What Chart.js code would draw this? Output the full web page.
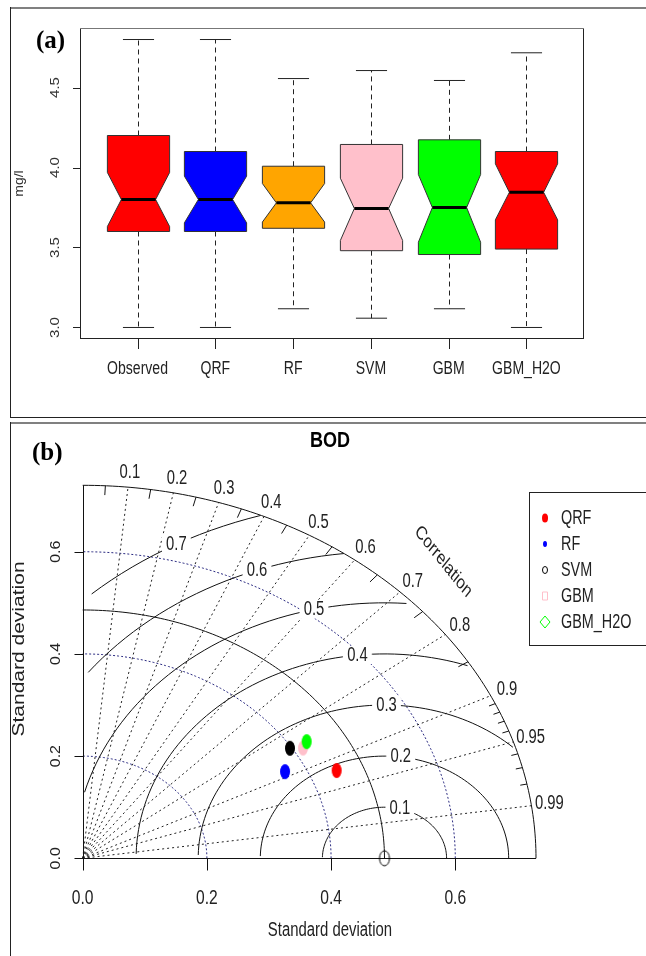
<!DOCTYPE html>
<html><head><meta charset="utf-8">
<script src="https://cdn.jsdelivr.net/npm/chart.js@4.4.1/dist/chart.umd.min.js"></script>
<style>
html,body{margin:0;padding:0;background:#fff;width:646px;height:956px;overflow:hidden;}
#wrap{position:relative;width:646px;height:956px;}
canvas{position:absolute;left:0;}
#ca{top:0;} #cb{top:420px;}
.ln{position:absolute;}
</style></head><body><div id="wrap">
<canvas id="ca" width="646" height="420"></canvas>
<canvas id="cb" width="646" height="536"></canvas>
<div class="ln" style="left:10px;top:7px;width:636px;height:2px;background:#808080"></div>
<div class="ln" style="left:10px;top:7px;width:1px;height:411px;background:#222"></div>
<div class="ln" style="left:10px;top:417px;width:636px;height:1px;background:#222"></div>
<div class="ln" style="left:10px;top:422px;width:636px;height:2px;background:#808080"></div>
<div class="ln" style="left:10px;top:422px;width:1px;height:534px;background:#222"></div>
</div>
<script>
// ---------- Panel (a) data ----------
const categories  = ['Observed','QRF','RF','SVM','GBM','GBM_H2O'];
const whiskerLow  = [3.00, 3.00, 3.117, 3.058, 3.117, 3.00];
const q1          = [3.60, 3.60, 3.62, 3.48, 3.456, 3.49];
const median      = [3.80, 3.80, 3.779, 3.744, 3.75, 3.845];
const q3          = [4.20, 4.10, 4.008, 4.144, 4.173, 4.10];
const whiskerHigh = [4.80, 4.80, 4.556, 4.606, 4.544, 4.717];
const notchLow    = [3.631, 3.654, 3.659, 3.544, 3.533, 3.673];
const notchHigh   = [3.969, 3.946, 3.90, 3.933, 3.956, 4.023];
const boxColors   = ['#FF0000','#0000FF','#FFA500','#FFC0CB','#00FF00','#FF0000'];
const yTicksA     = [3.0, 3.5, 4.0, 4.5];

// ---------- Panel (b) data ----------
const models      = ['QRF','RF','SVM','GBM','GBM_H2O'];
const modelSD     = [0.4436, 0.3673, 0.3972, 0.4153, 0.4268];
const modelCorr   = [0.922, 0.887, 0.8404, 0.8543, 0.845];
const modelColors = ['#FF0000','#0000FF','#000000','#FFC0CB','#00FF00'];
const refSD       = 0.486;
const maxSD       = 0.73;
const corrLabels  = [0.1,0.2,0.3,0.4,0.5,0.6,0.7,0.8,0.9,0.95,0.99];
const corrMedTicks= [0.05,0.15,0.25,0.35,0.45,0.55,0.65,0.75,0.85];
const corrSmallTicks=[0.91,0.92,0.93,0.94,0.96,0.97,0.98];
const sdGrid      = [0.2, 0.4, 0.6];
const rmsLevels   = [0.1,0.2,0.3,0.4,0.5,0.6,0.7];
const sdTicks     = [0.0, 0.2, 0.4, 0.6];

function txt(ctx, s, x, y, o) {
  ctx.save();
  ctx.translate(x, y);
  ctx.scale(o.sx || 1, 1);
  if (o.rot) ctx.rotate(o.rot);
  ctx.font = o.font;
  ctx.fillStyle = o.color || '#222';
  ctx.textAlign = o.align || 'center';
  ctx.textBaseline = o.base || 'middle';
  ctx.fillText(s, 0, 0);
  ctx.restore();
}
const SANS = '"Liberation Sans", Arial, sans-serif';

// ---------- Panel (a) ----------
const BOXW = 0.8;
const boxPlugin = {
  id: 'boxes',
  afterDraw(chart) {
    const ctx = chart.ctx, xs = chart.scales.x, ys = chart.scales.y, a = chart.chartArea;
    const X = v => xs.getPixelForValue(v), Y = v => ys.getPixelForValue(v);
    const hw = X(1 + BOXW / 2) - X(1);
    const hn = hw * 0.55;
    ctx.save();
    categories.forEach((c, i) => {
      const cx = Math.round(X(i + 1)) + 0.5;
      ctx.strokeStyle = '#222'; ctx.lineWidth = 1;
      ctx.setLineDash([5, 4]);
      ctx.beginPath();
      ctx.moveTo(cx, Y(q3[i])); ctx.lineTo(cx, Y(whiskerHigh[i]));
      ctx.moveTo(cx, Y(q1[i])); ctx.lineTo(cx, Y(whiskerLow[i]));
      ctx.stroke();
      ctx.setLineDash([]);
      ctx.beginPath();
      ctx.moveTo(cx - hw / 2, Y(whiskerHigh[i])); ctx.lineTo(cx + hw / 2, Y(whiskerHigh[i]));
      ctx.moveTo(cx - hw / 2, Y(whiskerLow[i])); ctx.lineTo(cx + hw / 2, Y(whiskerLow[i]));
      ctx.stroke();
      ctx.beginPath();
      ctx.moveTo(cx - hw, Y(q1[i]));
      ctx.lineTo(cx - hw, Y(notchLow[i]));
      ctx.lineTo(cx - hn, Y(median[i]));
      ctx.lineTo(cx - hw, Y(notchHigh[i]));
      ctx.lineTo(cx - hw, Y(q3[i]));
      ctx.lineTo(cx + hw, Y(q3[i]));
      ctx.lineTo(cx + hw, Y(notchHigh[i]));
      ctx.lineTo(cx + hn, Y(median[i]));
      ctx.lineTo(cx + hw, Y(notchLow[i]));
      ctx.lineTo(cx + hw, Y(q1[i]));
      ctx.closePath();
      ctx.fillStyle = boxColors[i]; ctx.fill();
      ctx.strokeStyle = '#333'; ctx.stroke();
      ctx.beginPath();
      ctx.lineWidth = 3; ctx.strokeStyle = '#000';
      ctx.moveTo(cx - hn, Y(median[i])); ctx.lineTo(cx + hn, Y(median[i]));
      ctx.stroke();
      ctx.lineWidth = 1; ctx.strokeStyle = '#222';
      ctx.beginPath(); ctx.moveTo(cx, a.bottom); ctx.lineTo(cx, a.bottom + 10); ctx.stroke();
      txt(ctx, c, X(i + 1), 369, {font: '18px ' + SANS, sx: 0.78, color: '#222'});
    });
    // plot box
    ctx.strokeStyle = '#222'; ctx.lineWidth = 1;
    ctx.strokeRect(a.left + 0.5, a.top + 0.5, a.right - a.left - 1, a.bottom - a.top - 1);
    ctx.strokeStyle = '#777';
    ctx.beginPath(); ctx.moveTo(a.left, a.top + 0.5); ctx.lineTo(a.right, a.top + 0.5); ctx.stroke();
    // y ticks
    ctx.strokeStyle = '#222';
    yTicksA.forEach(v => {
      const y = Math.round(Y(v)) + 0.5;
      ctx.beginPath(); ctx.moveTo(a.left, y); ctx.lineTo(a.left - 7, y); ctx.stroke();
      txt(ctx, v.toFixed(1), 55, Y(v), {font: '15px ' + SANS, sx: 0.9, rot: -Math.PI / 2, color: '#333'});
    });
    txt(ctx, 'mg/l', 20, (a.top + a.bottom) / 2, {font: '14px ' + SANS, sx: 0.85, rot: -Math.PI / 2, color: '#333'});
    txt(ctx, '(a)', 36, 48, {font: 'bold 25px "Liberation Serif", "Times New Roman", serif', align: 'left', base: 'alphabetic', color: '#000'});
    ctx.restore();
  }
};

new Chart(document.getElementById('ca'), {
  type: 'scatter',
  data: { datasets: [{ data: categories.map((c, i) => ({x: i + 1, y: median[i]})), pointRadius: 0 }] },
  options: {
    responsive: false, animation: false, events: [],
    plugins: { legend: {display: false}, tooltip: {enabled: false} },
    layout: { padding: {top: 28, right: 62, left: 0, bottom: 0} },
    scales: {
      x: { type: 'linear', min: 0.26, max: 6.74, grid: {display: false}, border: {display: false},
           ticks: {display: false}, afterFit: s => { s.height = 81; } },
      y: { type: 'linear', min: 2.928, max: 4.872, grid: {display: false}, border: {display: false},
           ticks: {display: false}, afterFit: s => { s.width = 80; } }
    }
  },
  plugins: [boxPlugin]
});

// ---------- Panel (b) ----------
function ellipseImg(color, rx, ry, filled) {
  const c = document.createElement('canvas');
  c.width = Math.ceil(rx * 2 + 4); c.height = Math.ceil(ry * 2 + 4);
  const g = c.getContext('2d');
  g.beginPath(); g.ellipse(c.width / 2, c.height / 2, rx, ry, 0, 0, Math.PI * 2);
  if (filled) { g.fillStyle = color; g.fill(); }
  else { g.strokeStyle = color; g.lineWidth = 1; g.stroke(); }
  return c;
}

const taylorPlugin = {
  id: 'taylor',
  beforeDatasetsDraw(chart) {
    const ctx = chart.ctx, xs = chart.scales.x, ys = chart.scales.y;
    const X = v => xs.getPixelForValue(v), Y = v => ys.getPixelForValue(v);
    const P = (sd, th) => [X(sd * Math.cos(th)), Y(sd * Math.sin(th))];
    const arc = (sd, t0, t1) => {
      ctx.beginPath();
      for (let k = 0; k <= 120; k++) {
        const p = P(sd, t0 + (t1 - t0) * k / 120);
        k ? ctx.lineTo(p[0], p[1]) : ctx.moveTo(p[0], p[1]);
      }
      ctx.stroke();
    };
    ctx.save();
    ctx.lineWidth = 1;
    // sd grid arcs
    ctx.strokeStyle = '#2a2a80'; ctx.setLineDash([2, 2]);
    sdGrid.forEach(s => arc(s, 0, Math.PI / 2));
    // radial correlation lines
    ctx.strokeStyle = '#222'; ctx.setLineDash([2, 3]);
    corrLabels.forEach(r => {
      const p = P(maxSD, Math.acos(r));
      ctx.beginPath(); ctx.moveTo(X(0), Y(0)); ctx.lineTo(p[0], p[1]); ctx.stroke();
    });
    ctx.setLineDash([]);
    // RMS arcs
    ctx.strokeStyle = '#111';
    rmsLevels.forEach((g, gi) => {
      const pts = [];
      for (let k = 0; k <= 104; k++) {
        const th = k * 0.03;
        pts.push([refSD + g * Math.cos(th), g * Math.sin(th)]);
      }
      let end = pts.findIndex(p => p[0] < 0); end = end < 0 ? 104 : end - 1;
      let start = 0;
      pts.forEach((p, k) => { if (p[0] * p[0] + p[1] * p[1] > maxSD * maxSD) start = k + 1; });
      ctx.beginPath();
      for (let k = start; k <= end; k++) {
        const px = X(pts[k][0]), py = Y(pts[k][1]);
        k === start ? ctx.moveTo(px, py) : ctx.lineTo(px, py);
      }
      ctx.stroke();
      const li = Math.floor(45 + 25 * gi / 6) - 1;
      const lx = X(pts[li][0]), ly = Y(pts[li][1]);
      ctx.font = '20px ' + SANS;
      const w = ctx.measureText(g.toFixed(1)).width * 0.74;
      ctx.fillStyle = '#fff';
      ctx.fillRect(lx - w * 0.7, ly - 9, w * 1.4, 18);
      txt(ctx, g.toFixed(1), lx, ly, {font: '20px ' + SANS, sx: 0.74, color: '#222'});
    });
    // reference sd arc and outer arc
    ctx.strokeStyle = '#111';
    arc(refSD, 0, Math.PI / 2);
    arc(maxSD, 0, Math.PI / 2);
    // outer ticks
    corrMedTicks.forEach(r => {
      const t = Math.acos(r), p = P(maxSD, t), q = P(maxSD * 0.975, t);
      ctx.beginPath(); ctx.moveTo(p[0], p[1]); ctx.lineTo(q[0], q[1]); ctx.stroke();
    });
    corrSmallTicks.forEach(r => {
      const t = Math.acos(r), p = P(maxSD, t), q = P(maxSD * 0.985, t);
      ctx.beginPath(); ctx.moveTo(p[0], p[1]); ctx.lineTo(q[0], q[1]); ctx.stroke();
    });
    // axes
    const x0 = Math.round(X(0)) + 0.5, y0 = Math.round(Y(0)) + 0.5;
    ctx.beginPath();
    ctx.moveTo(x0, y0); ctx.lineTo(X(maxSD), y0);
    ctx.moveTo(x0, y0); ctx.lineTo(x0, Y(maxSD));
    ctx.stroke();
    sdTicks.forEach(v => {
      const px = Math.round(X(v)) + 0.5, py = Math.round(Y(v)) + 0.5;
      ctx.beginPath();
      ctx.moveTo(px, y0); ctx.lineTo(px, y0 + 12);
      ctx.moveTo(x0, py); ctx.lineTo(x0 - 9, py);
      ctx.stroke();
      txt(ctx, v.toFixed(1), X(v), 478, {font: '20px ' + SANS, sx: 0.78, color: '#222'});
      txt(ctx, v.toFixed(1), 56, Y(v), {font: '16px ' + SANS, sx: 0.9, rot: -Math.PI / 2, color: '#222'});
    });
    ctx.restore();
  },
  afterDraw(chart) {
    const ctx = chart.ctx, xs = chart.scales.x, ys = chart.scales.y;
    const X = v => xs.getPixelForValue(v), Y = v => ys.getPixelForValue(v);
    const P = (sd, th) => [X(sd * Math.cos(th)), Y(sd * Math.sin(th))];
    ctx.save();
    corrLabels.forEach(r => {
      const p = P(maxSD * 1.04, Math.acos(r));
      txt(ctx, String(r), p[0], p[1], {font: '20px ' + SANS, sx: 0.74, color: '#222'});
    });
    const pc = P(maxSD * 1.125, Math.PI / 4);
    txt(ctx, 'Correlation', pc[0], pc[1], {font: '19px ' + SANS, sx: 0.8, rot: Math.PI / 4, color: '#222'});
    txt(ctx, 'Standard deviation', 330, 510, {font: '20px ' + SANS, sx: 0.745, color: '#222'});
    txt(ctx, 'Standard deviation', 19, 229, {font: '21px ' + SANS, sx: 0.8, rot: -Math.PI / 2, color: '#222'});
    txt(ctx, 'BOD', 330, 21, {font: 'bold 22px ' + SANS, sx: 0.82, color: '#000'});
    txt(ctx, '(b)', 32, 40, {font: 'bold 25px "Liberation Serif", "Times New Roman", serif', align: 'left', base: 'alphabetic', color: '#000'});
    // legend
    ctx.strokeStyle = '#222'; ctx.lineWidth = 1;
    ctx.strokeRect(529.5, 72.5, 130, 153);
    models.forEach((m, i) => {
      const y = 98 + 26 * i, x = 545;
      ctx.beginPath();
      if (i === 0) { ctx.ellipse(x, y, 3, 4.5, 0, 0, 7); ctx.fillStyle = modelColors[i]; ctx.fill(); }
      else if (i === 1) { ctx.ellipse(x, y, 2, 3, 0, 0, 7); ctx.fillStyle = modelColors[i]; ctx.fill(); }
      else if (i === 2) { ctx.ellipse(x, y, 2.5, 3.5, 0, 0, 7); ctx.strokeStyle = modelColors[i]; ctx.stroke(); }
      else if (i === 3) { ctx.rect(x - 2.5, y - 4, 5, 8); ctx.strokeStyle = modelColors[i]; ctx.stroke(); }
      else { ctx.moveTo(x, y - 6); ctx.lineTo(x + 5, y); ctx.lineTo(x, y + 6); ctx.lineTo(x - 5, y); ctx.closePath(); ctx.strokeStyle = modelColors[i]; ctx.stroke(); }
      txt(ctx, m, 561, y, {font: '20px ' + SANS, sx: 0.72, align: 'left', color: '#222'});
    });
    ctx.restore();
  }
};

const dsB = [{ label: 'Observed', data: [{x: refSD, y: 0}], pointStyle: ellipseImg('#000', 5, 7.5, false),
               pointRadius: 6, clip: false, order: 0 }];
models.forEach((m, i) => {
  dsB.push({ label: m,
    data: [{x: modelSD[i] * modelCorr[i], y: modelSD[i] * Math.sqrt(1 - modelCorr[i] * modelCorr[i])}],
    pointStyle: ellipseImg(modelColors[i], 5, 7.5, true), pointRadius: 6, clip: false,
    order: models.length - i });
});

new Chart(document.getElementById('cb'), {
  type: 'scatter',
  data: { datasets: dsB },
  options: {
    responsive: false, animation: false, events: [],
    plugins: { legend: {display: false}, tooltip: {enabled: false} },
    layout: { padding: {top: 65.3, right: 110, left: 0, bottom: 0} },
    scales: {
      x: { type: 'linear', min: 0, max: maxSD, grid: {display: false}, border: {display: false},
           ticks: {display: false}, afterFit: s => { s.height = 97.7; } },
      y: { type: 'linear', min: 0, max: maxSD, grid: {display: false}, border: {display: false},
           ticks: {display: false}, afterFit: s => { s.width = 82.7; } }
    }
  },
  plugins: [taylorPlugin]
});
</script>
</body></html>
